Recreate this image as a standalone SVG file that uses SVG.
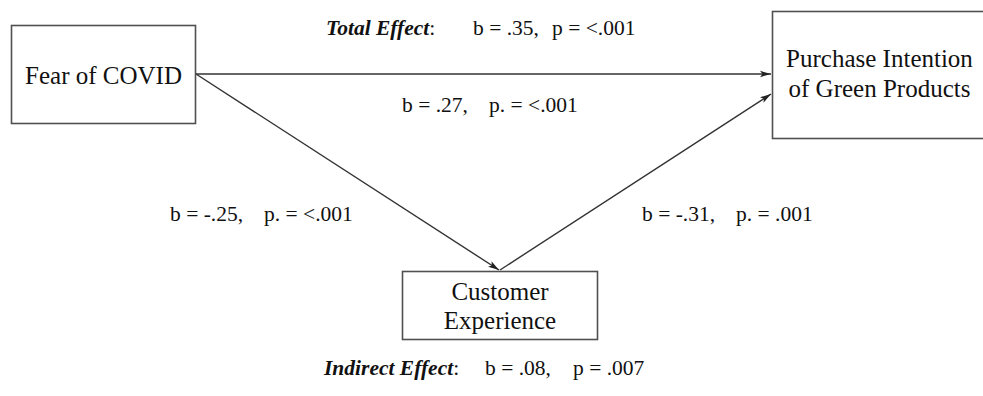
<svg xmlns="http://www.w3.org/2000/svg" width="983" height="396" viewBox="0 0 983 396">
<style>
  .box { fill: #ffffff; stroke: #505050; stroke-width: 1.6; }
  .lbl { font-family: "Liberation Serif", serif; font-size: 25px; fill: #111; text-anchor: middle; }
  .stat { font-family: "Liberation Serif", serif; font-size: 21.5px; fill: #111; }
  .bi { font-weight: bold; font-style: italic; }
  .conn { stroke: #333; stroke-width: 1.4; fill: none; marker-end: url(#arr); }
</style>
<defs>
  <marker id="arr" markerWidth="12" markerHeight="8" refX="11" refY="4" orient="auto" markerUnits="userSpaceOnUse">
    <path d="M0,0.8 L11,4 L0,7.2 L2.5,4 Z" fill="#222"/>
  </marker>
</defs>
<rect width="983" height="396" fill="#ffffff"/>
<g id="connectors">
  <line class="conn" x1="196" y1="74" x2="771" y2="74"/>
  <line class="conn" x1="196" y1="74" x2="499" y2="270"/>
  <line class="conn" x1="500" y1="270" x2="771" y2="94"/>
</g>
<g id="fear" font-family="Liberation Serif, serif">
  <rect class="box" x="11.5" y="25.5" width="184" height="98"/>
  <text class="lbl" x="103.5" y="84">Fear of COVID</text>
</g>
<g id="purchase" font-family="Liberation Serif, serif">
  <rect class="box" x="772.5" y="11.5" width="215" height="127"/>
  <text class="lbl" x="879.5" y="67">Purchase Intention</text>
  <text class="lbl" x="879.5" y="97">of Green Products</text>
</g>
<g id="customer" font-family="Liberation Serif, serif">
  <rect class="box" x="402.5" y="271.5" width="195" height="68"/>
  <text class="lbl" x="500" y="300">Customer</text>
  <text class="lbl" x="500" y="329">Experience</text>
</g>
<g id="labels" font-family="Liberation Serif, serif">
  <text class="stat" y="35"><tspan x="326" class="bi">Total Effect</tspan><tspan>:</tspan><tspan x="473">b = .35,</tspan><tspan x="552">p = &lt;.001</tspan></text>
  <text class="stat" y="112"><tspan x="402">b = .27,</tspan><tspan x="489">p. = &lt;.001</tspan></text>
  <text class="stat" y="221"><tspan x="170">b = -.25,</tspan><tspan x="264">p. = &lt;.001</tspan></text>
  <text class="stat" y="221"><tspan x="642">b = -.31,</tspan><tspan x="736">p. = .001</tspan></text>
  <text class="stat" y="375"><tspan x="324" class="bi">Indirect Effect</tspan><tspan>:</tspan><tspan x="485">b = .08,</tspan><tspan x="573">p = .007</tspan></text>
</g>
</svg>
